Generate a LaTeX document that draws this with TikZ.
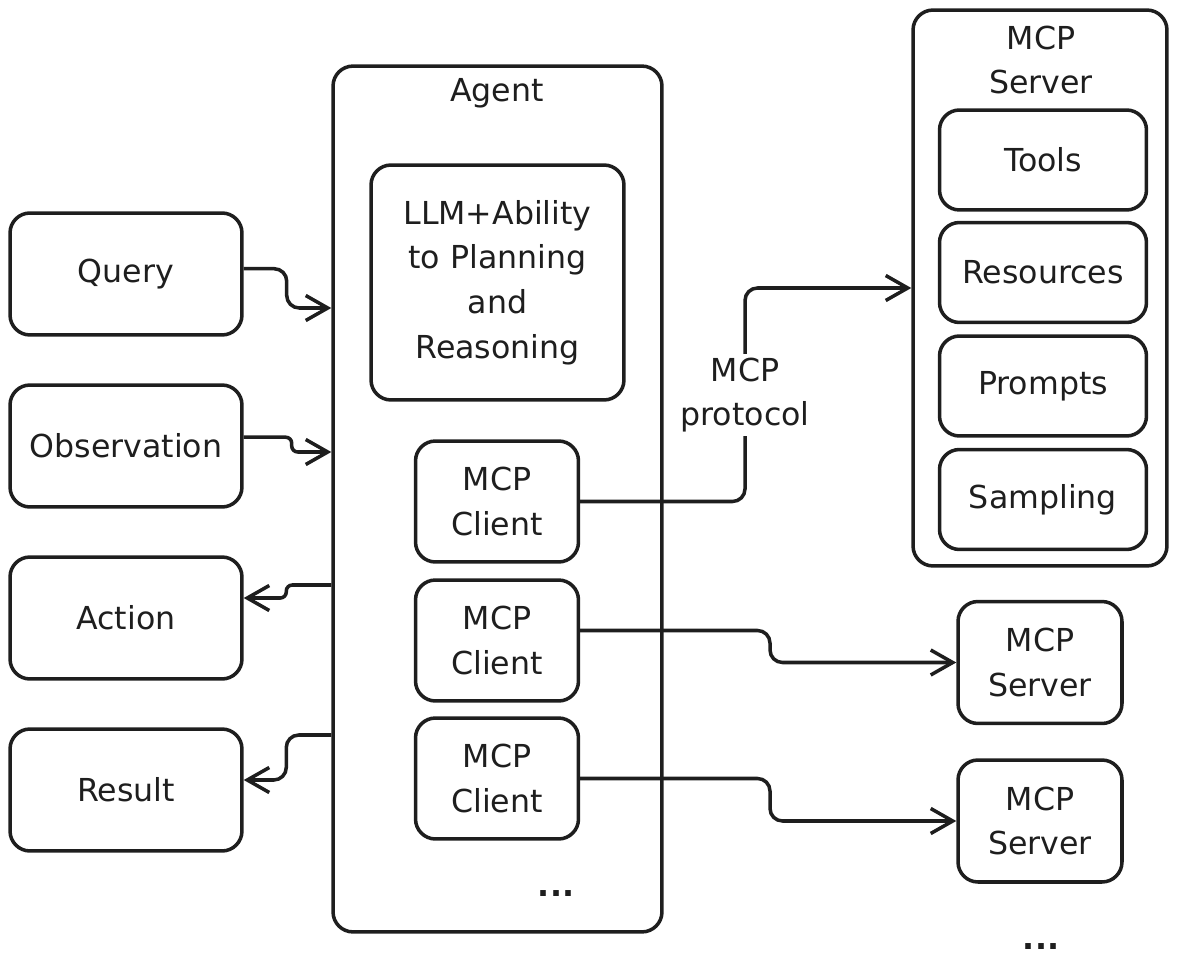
\documentclass[tikz,border=0pt]{standalone}
\usepackage{fontspec}
\setmainfont{DejaVu Sans}
\usetikzlibrary{positioning,arrows.meta,calc}

\definecolor{ink}{HTML}{1E1E1E}
\tikzset{
  box/.style={draw=ink, text=ink, line width=2pt, rounded corners=0.4cm, align=center,
    font=\fontsize{18}{25.5}\selectfont},
  inbox/.style={box, minimum width=4.64cm, minimum height=2.44cm},
  clientbox/.style={box, minimum width=3.26cm, minimum height=2.42cm},
  partbox/.style={box, minimum width=4.14cm, minimum height=2.0cm},
  serverbox/.style={box, minimum width=3.28cm, minimum height=2.44cm},
  plain/.style={text=ink, align=center, font=\fontsize{18}{25.5}\selectfont},
  link/.style={draw=ink, line width=2pt, rounded corners=0.25cm,
    -{Straight Barb[length=4.4mm,width=5mm,line width=2pt]}},
}

\begin{document}
\begin{tikzpicture}[x=0.02cm, y=-0.02cm]
\useasboundingbox (0,0) rectangle (1177,973);

% inputs and outputs on the left
\node[inbox] (query) at (126,274) {Query};
\node[inbox] (observation) at (126,446) {Observation};
\node[inbox] (action) at (126,618) {Action};
\node[inbox] (result) at (126,790) {Result};

% the agent
\node[box, minimum width=6.58cm, minimum height=17.32cm] (agent) at (497.5,499) {};
\node[plain] (agentlabel) at (497,93) {Agent};
\node[box, minimum width=5.06cm, minimum height=4.7cm] (llm) at (497.5,282.5)
  {LLM+Ability\\to Planning\\and\\Reasoning};
\node[clientbox] (client1) at (497,501.5) {MCP\\Client};
\node[clientbox] (client2) at (497,640.5) {MCP\\Client};
\node[clientbox] (client3) at (497,778.5) {MCP\\Client};
\node[plain] (agentdots) at (556,894) {\textbf{...}};

% full MCP server
\node[box, minimum width=5.08cm, minimum height=11.12cm] (mcpserver) at (1040,288) {};
\node[plain] (serverlabel) at (1041,60) {MCP\\Server};
\node[partbox] (tools) at (1043,160) {Tools};
\node[partbox] (resources) at (1043,272.5) {Resources};
\node[partbox] (prompts) at (1043,386) {Prompts};
\node[partbox] (sampling) at (1043,499.5) {Sampling};

% other servers
\node[serverbox] (server2) at (1040,662.5) {MCP\\Server};
\node[serverbox] (server3) at (1040,821) {MCP\\Server};
\node[plain] (serverdots) at (1041,947) {\textbf{...}};

% into the agent
\draw[link] ([yshift=3pt]query.east) -- ++(43,0) |- (agent.west |- 0,308);
\draw[link, rounded corners=0.12cm] ([yshift=5pt]observation.east) -- ++(48,0) |- (agent.west |- 0,452);
% out of the agent
\draw[link, rounded corners=0.12cm] (agent.west |- 0,585) -- ++(-45,0) |- ([yshift=0.4cm]action.east);
\draw[link] (agent.west |- 0,735) -- ++(-45,0) |- ([yshift=0.2cm]result.east);

% clients to servers
\draw[link] (client1.east) -- (745,501.5) |- (mcpserver.west |- 0,288);
\node[plain, fill=white, inner sep=2pt] (protocol) at (745,395) {MCP\\protocol};
\draw[link] ([yshift=0.2cm]client2.east) -- (770,630.5) |- (server2.west);
\draw[link] (client3.east) -- (770,778.5) |- (server3.west);

\end{tikzpicture}
\end{document}
